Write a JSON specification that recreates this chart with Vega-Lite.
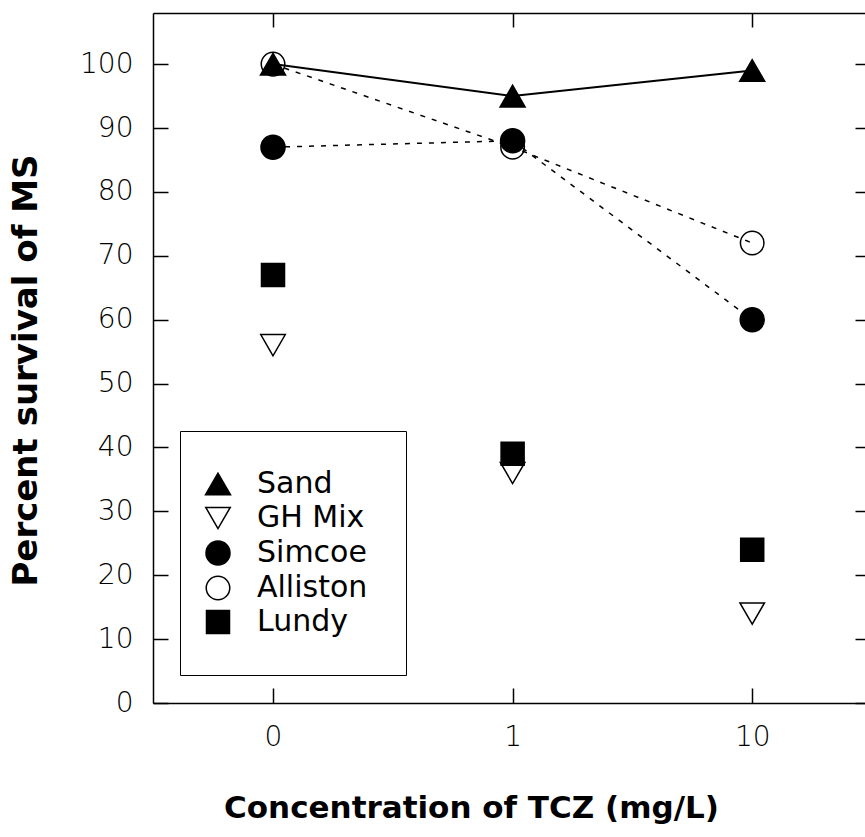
{
  "$schema": "https://vega.github.io/schema/vega-lite/v6.json",
  "autosize": {"type": "none"},
  "padding": {"left": 153, "top": 13, "right": 0, "bottom": 134},
  "width": 712,
  "height": 690,
  "background": "white",
  "config": {
    "view": {"stroke": null},
    "axis": {
      "domainColor": "black", "tickColor": "black", "domainWidth": 1.5, "tickWidth": 1.5,
      "grid": false, "labelColor": "black", "titleColor": "black",
      "labelFont": "DejaVu Sans", "titleFont": "DejaVu Sans"
    }
  },
  "data": {"values": [
    {"conc": "0", "series": "Sand", "v": 100},
    {"conc": "1", "series": "Sand", "v": 95},
    {"conc": "10", "series": "Sand", "v": 99},
    {"conc": "0", "series": "GH Mix", "v": 56},
    {"conc": "1", "series": "GH Mix", "v": 36},
    {"conc": "10", "series": "GH Mix", "v": 14},
    {"conc": "0", "series": "Simcoe", "v": 87},
    {"conc": "1", "series": "Simcoe", "v": 88},
    {"conc": "10", "series": "Simcoe", "v": 60},
    {"conc": "0", "series": "Alliston", "v": 100},
    {"conc": "1", "series": "Alliston", "v": 87},
    {"conc": "10", "series": "Alliston", "v": 72},
    {"conc": "0", "series": "Lundy", "v": 67},
    {"conc": "1", "series": "Lundy", "v": 39},
    {"conc": "10", "series": "Lundy", "v": 24}
  ]},
  "resolve": {"axis": {"x": "independent", "y": "independent"}},
  "layer": [
    {
      "transform": [{"filter": "datum.series === 'Sand'"}],
      "mark": {"type": "line", "color": "black", "strokeWidth": 2},
      "encoding": {
        "x": {"field": "conc", "type": "ordinal", "sort": ["0", "1", "10"],
          "scale": {"type": "point", "domain": ["0", "1", "10"], "padding": 0.4858, "align": 0.5155},
          "axis": {"orient": "bottom", "title": "Concentration of TCZ (mg/L)", "labelAngle": 0,
            "tickSize": -15, "labelPadding": 35, "labelFontSize": 28, "labelFontWeight": 300,
            "titleFontSize": 31, "titleFontWeight": "bold", "titlePadding": 42, "titleX": 318}},
        "y": {"field": "v", "type": "quantitative",
          "scale": {"domain": [0, 108], "nice": false, "zero": true},
          "axis": {"orient": "left", "title": "Percent survival of MS", "values": [0, 10, 20, 30, 40, 50, 60, 70, 80, 90, 100],
            "tickSize": -15, "labelPadding": 35, "labelFontSize": 28, "labelFontWeight": 300,
            "titleFontSize": 34, "titleFontWeight": "bold", "titlePadding": 36, "titleY": 357}}
      }
    },
    {
      "transform": [{"filter": "datum.series === 'Simcoe' || datum.series === 'Alliston'"}],
      "mark": {"type": "line", "color": "black", "strokeWidth": 1.5, "strokeDash": [5, 7]},
      "encoding": {
        "x": {"field": "conc", "type": "ordinal", "sort": ["0", "1", "10"],
          "axis": {"orient": "top", "title": null, "labels": false, "tickSize": -14}},
        "y": {"field": "v", "type": "quantitative",
          "axis": {"orient": "right", "title": null, "labels": false, "domain": false, "tickSize": -10,
            "values": [0, 10, 20, 30, 40, 50, 60, 70, 80, 90, 100]}},
        "detail": {"field": "series"}
      }
    },
    {
      "mark": {"type": "point", "stroke": "black", "strokeWidth": 1.5, "opacity": 1, "fillOpacity": 1, "filled": true},
      "encoding": {
        "x": {"field": "conc", "type": "ordinal", "sort": ["0", "1", "10"], "axis": null},
        "y": {"field": "v", "type": "quantitative", "axis": null},
        "shape": {"field": "series", "type": "nominal",
          "scale": {"domain": ["Sand", "GH Mix", "Simcoe", "Alliston", "Lundy"],
            "range": ["triangle-up", "triangle-down", "circle", "circle", "square"]},
          "legend": {"orient": "none", "legendX": 27, "legendY": 418, "title": null,
            "strokeColor": "black", "padding": 38, "rowPadding": 4, "labelOffset": 24, "symbolOffset": -15,
            "labelFont": "DejaVu Sans", "labelFontSize": 30, "labelColor": "black",
            "symbolStrokeColor": "black", "symbolStrokeWidth": 1.5, "symbolOpacity": 1}},
        "fill": {"field": "series", "type": "nominal",
          "scale": {"domain": ["Sand", "GH Mix", "Simcoe", "Alliston", "Lundy"],
            "range": ["black", "transparent", "black", "transparent", "black"]}},
        "size": {"field": "series", "type": "nominal",
          "scale": {"domain": ["Sand", "GH Mix", "Simcoe", "Alliston", "Lundy"],
            "range": [625, 530, 676, 480, 420]}}
      }
    }
  ]
}
